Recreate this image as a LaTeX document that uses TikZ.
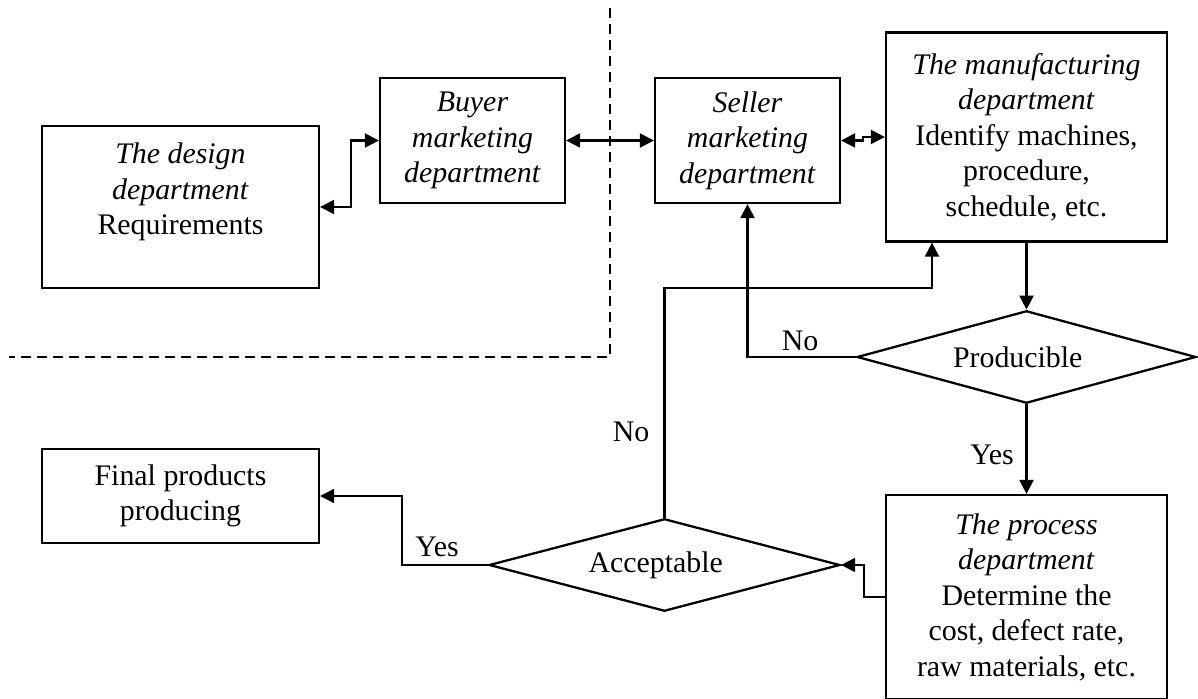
\documentclass[tikz,border=0pt]{standalone}
\usepackage{fontspec}
\setmainfont{Liberation Serif}
\usetikzlibrary{shapes.geometric,arrows.meta}

\begin{document}
\begin{tikzpicture}[x=0.02cm,y=-0.02cm,
        font=\fontsize{17}{20.2}\selectfont,
        dept/.style={draw,line width=1.3pt,align=center,inner sep=0pt},
        decide/.style={draw,diamond,aspect=4,line width=1.3pt,inner sep=0pt},
        flow/.style={line width=1.3pt,-{Triangle[length=8pt,width=8pt]}},
        bothway/.style={line width=1.3pt,{Triangle[length=8pt,width=8pt]}-{Triangle[length=8pt,width=8pt]}}]
        % Page size
        \useasboundingbox (0,0) rectangle (1198,699);

        % Buyer side / seller side boundary
        \draw[line width=1.2pt,dash pattern=on 0.2cm off 0.12cm] (610,8) -- (610,357) -- (9,357);

        % Departments
        \node[dept,minimum width=5.54cm,minimum height=3.24cm,
              label={[align=center,yshift=0.3cm]center:\textit{The design}\\\textit{department}\\Requirements}]
              (design) at (180.5,207) {};
        \node[dept,minimum width=3.7cm,minimum height=2.49cm] (buyer) at (472.5,140.5)
              {\textit{Buyer}\\\textit{marketing}\\\textit{department}};
        \node[dept,minimum width=3.7cm,minimum height=2.5cm] (seller) at (747.5,140.5)
              {\textit{Seller}\\\textit{marketing}\\\textit{department}};
        \node[dept,minimum width=5.62cm,minimum height=4.18cm] (manuf) at (1026.5,137)
              {\textit{The manufacturing}\\\textit{department}\\Identify machines,\\procedure,\\schedule, etc.};
        \node[dept,minimum width=5.62cm,minimum height=4.08cm] (process) at (1026.5,597)
              {\textit{The process}\\\textit{department}\\Determine the\\cost, defect rate,\\raw materials, etc.};
        \node[dept,minimum width=5.54cm,minimum height=1.88cm] (final) at (180.5,496)
              {Final products\\producing};

        % Decisions (text sits a bit left of centre)
        \node[decide,minimum width=6.78cm,minimum height=1.85cm] (producible) at (1026.5,357)
              {Producible\hspace*{0.35cm}};
        \node[decide,minimum width=7.02cm,minimum height=1.85cm] (acceptable) at (664.5,565)
              {Acceptable\hspace*{0.35cm}};

        % Links between departments
        \draw[bothway] (design.east) -- ++(31,0) |- (buyer.west);
        \draw[bothway] (buyer.east) -- (seller.west);
        \draw[bothway] (seller.east) -- ++(22,0) |- (manuf.west);

        \draw[flow] (manuf.south) -- (producible.north);
        \draw[flow] (producible.west) -| (seller.south);
        \draw[flow] (producible.south) -- (process.north);
        \draw[flow] (process.west) -- ++(-21,0) |- (acceptable.east);

        \coordinate (back) at (932,288);
        \draw[flow] (acceptable.north) |- (back) -- (back |- manuf.south);
        \draw[flow] (acceptable.west) -- ++(-86,0) |- (final.east);

        % Answers
        \node (no1) at (800,341) {No};
        \node (yes1) at (992,455) {Yes};
        \node (no2) at (631,432) {No};
        \node (yes2) at (437,547) {Yes};
\end{tikzpicture}
\end{document}
